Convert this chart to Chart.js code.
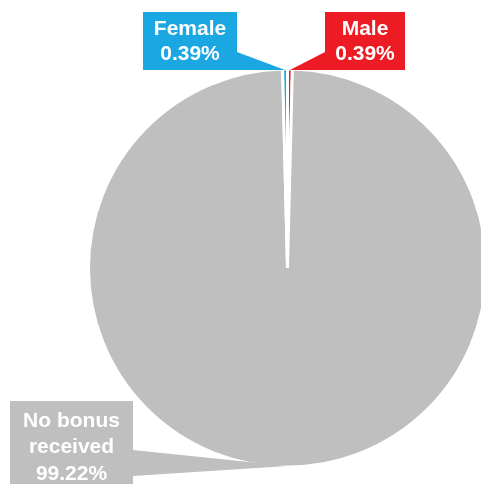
<!DOCTYPE html>
<html>
<head>
<meta charset="utf-8">
<script src="https://cdn.jsdelivr.net/npm/chart.js@4.4.1/dist/chart.umd.min.js"></script>
<style>
    html, body { margin: 0; padding: 0; background: #fff; overflow: hidden; }
    #wrap { position: relative; width: 500px; height: 484px; }
    #title {
        position: absolute; left: 30px; top: -22px; white-space: nowrap;
        font: bold 20px "Liberation Sans", Arial, sans-serif; color: #333;
    }
</style>
</head>
<body>
<div id="wrap">
    <div id="title">Proportion of employees receiving bonus pay, by gender, 2023</div>
    <canvas id="pie-chart-canvas" width="500" height="484"></canvas>
</div>
<script>
// Data (clockwise from top)
const categories = ['Male', 'No bonus received', 'Female'];
const shares = [0.39, 99.22, 0.39];
const labelLines = [['Male', '0.39%'], ['No bonus', 'received', '99.22%'], ['Female', '0.39%']];
const sliceColors = ['#ED1C24', '#BFBFBF', '#1BA7E1'];

// Callout boxes: x, y, w, h, and where the pointer leaves the box
const callouts = [
    { x: 325, y: 12, w: 80, h: 58, base: [[325, 52], [325, 70]], lineY: [35, 60] },
    { x: 10, y: 401, w: 123, h: 90, base: [[133, 450], [133, 476]], lineY: [427, 453, 480] },
    { x: 143, y: 12, w: 94, h: 58, base: [[237, 52], [237, 70]], lineY: [35, 60] }
];

const calloutPlugin = {
    id: 'callouts',
    afterDatasetsDraw(chart) {
        const ctx = chart.ctx;
        const arcs = chart.getDatasetMeta(0).data;
        ctx.save();
        arcs.forEach((arc, i) => {
            const c = callouts[i];
            const mid = (arc.startAngle + arc.endAngle) / 2;
            const tx = arc.x + Math.cos(mid) * (arc.outerRadius - 1);
            const ty = arc.y + Math.sin(mid) * (arc.outerRadius - 1);
            ctx.fillStyle = sliceColors[i];
            ctx.beginPath();
            ctx.moveTo(c.base[0][0], c.base[0][1]);
            ctx.lineTo(tx, ty);
            ctx.lineTo(c.base[1][0], c.base[1][1]);
            ctx.closePath();
            ctx.fill();
            ctx.fillRect(c.x, c.y, c.w, c.h);
            ctx.fillStyle = '#fff';
            ctx.font = 'bold 21px "Liberation Sans", Arial, sans-serif';
            ctx.textAlign = 'center';
            ctx.textBaseline = 'alphabetic';
            labelLines[i].forEach((t, k) => {
                ctx.fillText(t, c.x + c.w / 2, c.lineY[k]);
            });
        });
        ctx.restore();
    }
};

new Chart(document.getElementById('pie-chart-canvas').getContext('2d'), {
    type: 'pie',
    data: {
        labels: categories,
        datasets: [{
            data: shares,
            backgroundColor: sliceColors,
            borderColor: '#fff',
            borderWidth: 3
        }]
    },
    options: {
        responsive: false,
        animation: false,
        layout: { padding: { top: 67, bottom: 15, left: 87, right: 12 } },
        plugins: {
            legend: { display: false },
            tooltip: { enabled: false }
        }
    },
    plugins: [calloutPlugin]
});
</script>
</body>
</html>
